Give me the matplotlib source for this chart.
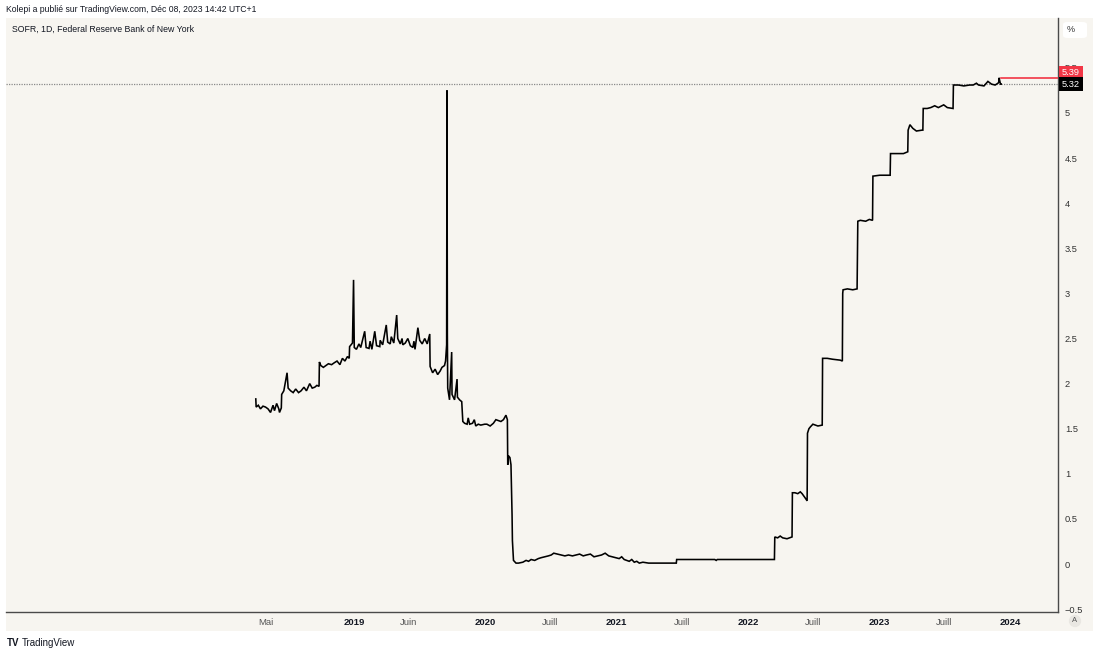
import numpy as np
import matplotlib
matplotlib.use("Agg")
import matplotlib.pyplot as plt
import matplotlib.dates as mdates
from matplotlib.patches import Rectangle, FancyBboxPatch

plt.rcParams['font.family'] = ['Liberation Sans', 'DejaVu Sans']

# SOFR daily rate (%) at key dates
dates = [
    "2018-04-03", "2018-04-04", "2018-04-10", "2018-04-16", "2018-04-23", "2018-04-30",
    "2018-05-07", "2018-05-14", "2018-05-21", "2018-05-25", "2018-05-31", "2018-06-06",
    "2018-06-08", "2018-06-13", "2018-06-14", "2018-06-20", "2018-06-29", "2018-07-02",
    "2018-07-09", "2018-07-16", "2018-07-23", "2018-07-31", "2018-08-07", "2018-08-15",
    "2018-08-22", "2018-08-31", "2018-09-07", "2018-09-14", "2018-09-20", "2018-09-26",
    "2018-09-27", "2018-10-01", "2018-10-08", "2018-10-15", "2018-10-22", "2018-10-31",
    "2018-11-07", "2018-11-15", "2018-11-23", "2018-11-30", "2018-12-07", "2018-12-14",
    "2018-12-19", "2018-12-20", "2018-12-28", "2018-12-31",
    "2019-01-02", "2019-01-08", "2019-01-15", "2019-01-20", "2019-01-31", "2019-02-04",
    "2019-02-12", "2019-02-15", "2019-02-20", "2019-02-28", "2019-03-05", "2019-03-14",
    "2019-03-15", "2019-03-22", "2019-04-01", "2019-04-05", "2019-04-12", "2019-04-15",
    "2019-04-22", "2019-04-30", "2019-05-03", "2019-05-10", "2019-05-15", "2019-05-17",
    "2019-05-24", "2019-05-31", "2019-06-07", "2019-06-14", "2019-06-17", "2019-06-20",
    "2019-06-28", "2019-07-03", "2019-07-10", "2019-07-17", "2019-07-24", "2019-07-31",
    "2019-08-01", "2019-08-08", "2019-08-15", "2019-08-22", "2019-08-29", "2019-09-03",
    "2019-09-10", "2019-09-13", "2019-09-16", "2019-09-17", "2019-09-18", "2019-09-19",
    "2019-09-24", "2019-09-30", "2019-10-01", "2019-10-08", "2019-10-15", "2019-10-16",
    "2019-10-22", "2019-10-28", "2019-10-31", "2019-11-05", "2019-11-12", "2019-11-15",
    "2019-11-19", "2019-11-27", "2019-12-02", "2019-12-06", "2019-12-13", "2019-12-20",
    "2019-12-31",
    "2020-01-06", "2020-01-15", "2020-01-24", "2020-01-31", "2020-02-07", "2020-02-14",
    "2020-02-21", "2020-02-28", "2020-03-03", "2020-03-04", "2020-03-06", "2020-03-10",
    "2020-03-13", "2020-03-16", "2020-03-17", "2020-03-20", "2020-03-27", "2020-04-03",
    "2020-04-15", "2020-04-24", "2020-05-01", "2020-05-08", "2020-05-18", "2020-05-28",
    "2020-06-05", "2020-06-15", "2020-06-25", "2020-07-03", "2020-07-10", "2020-07-20",
    "2020-07-31", "2020-08-10", "2020-08-20", "2020-08-31", "2020-09-10", "2020-09-20",
    "2020-09-30", "2020-10-09", "2020-10-20", "2020-10-30", "2020-11-10", "2020-11-20",
    "2020-11-30", "2020-12-10", "2020-12-20", "2020-12-31",
    "2021-01-08", "2021-01-15", "2021-01-22", "2021-01-29", "2021-02-05", "2021-02-12",
    "2021-02-19", "2021-02-26", "2021-03-05", "2021-03-15", "2021-03-31", "2021-04-15",
    "2021-05-03", "2021-06-01", "2021-06-16", "2021-06-17", "2021-09-01", "2021-10-01",
    "2021-10-05", "2021-10-08", "2021-12-31",
    "2022-01-15", "2022-02-15", "2022-03-16", "2022-03-17", "2022-03-25", "2022-04-01",
    "2022-04-08", "2022-04-20", "2022-05-04", "2022-05-05", "2022-05-12", "2022-05-20",
    "2022-05-27", "2022-06-01", "2022-06-10", "2022-06-15", "2022-06-16", "2022-06-20",
    "2022-06-24", "2022-07-01", "2022-07-15", "2022-07-27", "2022-07-28", "2022-08-10",
    "2022-08-25", "2022-09-15", "2022-09-21", "2022-09-22", "2022-09-23", "2022-10-05",
    "2022-10-20", "2022-11-01", "2022-11-03", "2022-11-10", "2022-11-25", "2022-12-05",
    "2022-12-14", "2022-12-15",
    "2023-01-03", "2023-01-20", "2023-02-01", "2023-02-02", "2023-02-20", "2023-03-10",
    "2023-03-22", "2023-03-23", "2023-03-28", "2023-04-05", "2023-04-15", "2023-05-01",
    "2023-05-03", "2023-05-04", "2023-05-15", "2023-05-25", "2023-06-05", "2023-06-15",
    "2023-06-30", "2023-07-10", "2023-07-26", "2023-07-27", "2023-08-10", "2023-08-25",
    "2023-09-10", "2023-09-20", "2023-09-29", "2023-10-05", "2023-10-20", "2023-10-31",
    "2023-11-10", "2023-11-20", "2023-11-28", "2023-11-30", "2023-12-01", "2023-12-04",
    "2023-12-05", "2023-12-07",
]
rates = [
    1.83, 1.74, 1.76, 1.72, 1.75, 1.74,
    1.72, 1.68, 1.76, 1.70, 1.78, 1.72,
    1.68, 1.73, 1.88, 1.92, 2.12, 1.95,
    1.92, 1.90, 1.94, 1.90, 1.92, 1.96,
    1.92, 2.00, 1.95, 1.96, 1.98, 1.97,
    2.24, 2.20, 2.18, 2.20, 2.22, 2.21,
    2.23, 2.25, 2.21, 2.28, 2.25, 2.30,
    2.28, 2.41, 2.45, 3.15,
    2.40, 2.38, 2.44, 2.40, 2.58, 2.40,
    2.39, 2.47, 2.38, 2.58, 2.42, 2.41,
    2.48, 2.43, 2.65, 2.46, 2.44, 2.52,
    2.45, 2.76, 2.50, 2.44, 2.50, 2.43,
    2.45, 2.50, 2.42, 2.40, 2.47, 2.38,
    2.62, 2.48, 2.44, 2.50, 2.44, 2.55,
    2.19, 2.12, 2.16, 2.10, 2.14, 2.18,
    2.20, 2.25, 2.43, 5.25, 2.55, 1.95,
    1.82, 2.35, 1.88, 1.82, 2.05, 1.85,
    1.82, 1.80, 1.58, 1.56, 1.55, 1.62,
    1.55, 1.56, 1.60, 1.53, 1.55, 1.54,
    1.55,
    1.55, 1.53, 1.56, 1.60, 1.59, 1.58,
    1.60, 1.65, 1.60, 1.10, 1.20, 1.18,
    1.10, 0.55, 0.26, 0.04, 0.01, 0.01,
    0.02, 0.04, 0.03, 0.05, 0.04, 0.06,
    0.07, 0.08, 0.09, 0.10, 0.12, 0.11,
    0.10, 0.09, 0.10, 0.09, 0.10, 0.11,
    0.09, 0.10, 0.11, 0.08, 0.09, 0.10,
    0.12, 0.09, 0.08, 0.07,
    0.06, 0.08, 0.05, 0.04, 0.03, 0.05,
    0.02, 0.03, 0.01, 0.02, 0.01, 0.01,
    0.01, 0.01, 0.01, 0.05, 0.05, 0.05,
    0.04, 0.05, 0.05,
    0.05, 0.05, 0.05, 0.30, 0.29, 0.31,
    0.29, 0.28, 0.30, 0.79, 0.79, 0.78,
    0.80, 0.78, 0.73, 0.70, 1.45, 1.50,
    1.52, 1.55, 1.53, 1.54, 2.28, 2.28,
    2.27, 2.26, 2.25, 3.00, 3.04, 3.05,
    3.04, 3.05, 3.80, 3.81, 3.80, 3.82,
    3.81, 4.30,
    4.31, 4.31, 4.31, 4.55, 4.55, 4.55,
    4.57, 4.81, 4.87, 4.83, 4.80, 4.81,
    4.81, 5.05, 5.05, 5.06, 5.08, 5.06,
    5.09, 5.06, 5.05, 5.31, 5.31, 5.30,
    5.31, 5.31, 5.33, 5.31, 5.30, 5.35,
    5.32, 5.31, 5.33, 5.34, 5.39, 5.34,
    5.32, 5.32,
]

prev_close = 5.39
last_value = 5.32

tick_dates = ["2018-05-01", "2019-01-01", "2019-06-01", "2020-01-01", "2020-07-01",
              "2021-01-01", "2021-07-01", "2022-01-01", "2022-07-01", "2023-01-01",
              "2023-07-01", "2024-01-01"]
tick_labels = ["Mai", "2019", "Juin", "2020", "Juill", "2021", "Juill", "2022",
               "Juill", "2023", "Juill", "2024"]
y_ticks = [-0.5, 0, 0.5, 1, 1.5, 2, 2.5, 3, 3.5, 4, 4.5, 5, 5.5]

x = np.array(dates, dtype="datetime64[D]")
y = np.array(rates)

W, H = 1100, 655
bg = "#f7f5f0"
ink = "#131722"
fig = plt.figure(figsize=(W / 100, H / 100), dpi=100)
fig.patch.set_facecolor("white")

# beige panel behind chart + axes strips
fig.patches.append(Rectangle((6 / W, 1 - 631 / H), (1093 - 6) / W, (631 - 18) / H,
                             transform=fig.transFigure, facecolor=bg, edgecolor="none", zorder=-5))

ax = fig.add_axes([6 / W, 1 - 612 / H, (1058 - 6) / W, (612 - 18) / H])
ax.set_zorder(1)
ax.set_facecolor(bg)
ax.plot(x, y, color="black", lw=1.15, solid_joinstyle="miter", zorder=4)

ax.set_xlim(mdates.date2num(np.datetime64("2016-05-08")), mdates.date2num(np.datetime64("2024-05-13")))
ax.set_ylim(-0.532, 6.053)

# last-value dotted line and previous-close red line
ax.axhline(last_value, color="#8a8a8a", lw=0.9, ls=(0, (1, 1)), zorder=3)
ax.plot([x[-1], np.datetime64("2024-06-01")], [prev_close, prev_close], color="#f23645", lw=1.2, zorder=3)

for s in ["top", "left"]:
    ax.spines[s].set_visible(False)
for s in ["right", "bottom"]:
    ax.spines[s].set_color("#4a4a4a")
    ax.spines[s].set_linewidth(1.0)

ax.yaxis.tick_right()
ax.set_yticks(y_ticks)
ax.set_yticklabels(["\u22120.5" if v == -0.5 else f"{v:g}" for v in y_ticks])
ax.tick_params(axis="y", length=0, pad=5, labelsize=6.7, labelcolor="#333333")

ax.set_xticks([mdates.date2num(np.datetime64(d)) for d in tick_dates])
ax.set_xticklabels(tick_labels)
ax.tick_params(axis="x", length=0, pad=4, labelsize=6.8, labelcolor="#555555")
for lbl in ax.get_xticklabels():
    if lbl.get_text().isdigit():
        lbl.set_fontweight("bold")
        lbl.set_color(ink)

# price labels on right axis
ax.annotate(f"{prev_close:.2f}", xy=(1.0, prev_close), xycoords=("axes fraction", "data"),
            xytext=(4, 5), textcoords="offset pixels", ha="left", va="center",
            fontsize=6.7, color="white", zorder=10, annotation_clip=False,
            bbox=dict(boxstyle="square,pad=0.3", fc="#f23645", ec="none"))
ax.annotate(f"{last_value:.2f}", xy=(1.0, last_value), xycoords=("axes fraction", "data"),
            xytext=(4, 0), textcoords="offset pixels", ha="left", va="center",
            fontsize=6.7, color="white", zorder=10, annotation_clip=False,
            bbox=dict(boxstyle="square,pad=0.3", fc="black", ec="none"))

# header texts
fig.text(6 / W, 1 - 9 / H, "Kolepi a publié sur TradingView.com, Déc 08, 2023 14:42 UTC+1",
         fontsize=6.2, color=ink, va="center", ha="left")
fig.text(12 / W, 1 - 29 / H, "SOFR, 1D, Federal Reserve Bank of New York",
         fontsize=6.3, color=ink, va="center", ha="left")

# "%" box and "A" button
fig.patches.append(FancyBboxPatch((1063 / W, 1 - 38 / H), 24 / W, 16 / H,
                                  boxstyle="round,pad=0,rounding_size=0.004",
                                  transform=fig.transFigure, fc="white", ec="none", zorder=2))
fig.text(1071 / W, 1 - 30 / H, "%", fontsize=6.5, color="#333333", va="center", ha="center")
fig.text(1075 / W, 1 - 621 / H, "A", fontsize=5.5, color="#555555", va="center", ha="center",
         bbox=dict(boxstyle="circle,pad=0.35", fc="#e9e7e2", ec="none"))

# footer logo
fig.text(7 / W, 1 - 643 / H, "TV", fontsize=7, fontweight="heavy", color=ink, va="center", ha="left")
fig.text(22 / W, 1 - 643 / H, "TradingView", fontsize=7, color=ink, va="center", ha="left")

fig.savefig("out.png", dpi=100, facecolor="white")
